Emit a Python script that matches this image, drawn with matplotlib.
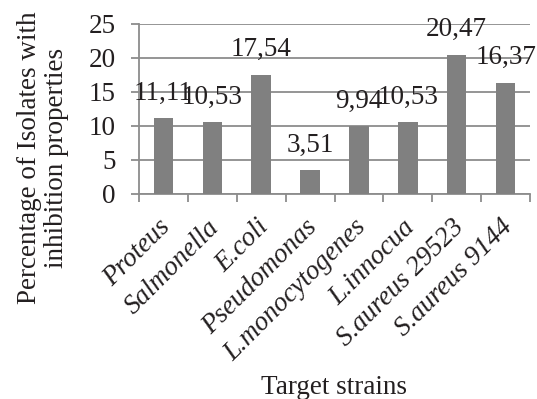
import numpy as np
import matplotlib
matplotlib.use("Agg")
import matplotlib.pyplot as plt
import matplotlib.transforms as mtransforms

# ------------------------------------------
# DATA
strains = ['Proteus', 'Salmonella', 'E.coli', 'Pseudomonas',
           'L.monocytogenes', 'L.innocua', 'S.aureus 29523', 'S.aureus 9144']
percentIsolates = [11.11, 10.53, 17.54, 3.51, 9.94, 10.53, 20.47, 16.37]
yTicks = [0, 5, 10, 15, 20, 25]

barColor = '#808080'
lineColor = '#8c8c8c'
textColor = '#231f20'
fontSize = 19.5

plt.rcParams['font.family'] = 'Liberation Serif'

fig = plt.figure(figsize=(5.37, 3.99), dpi=100)
ax = fig.add_axes([0.259, 0.514, 0.728, 0.426])

x_pos = np.arange(len(strains))
ax.bar(x_pos, percentIsolates, width=0.4, color=barColor, zorder=3)

# value labels above each bar, comma as decimal separator
for x, v in zip(x_pos, percentIsolates):
    ax.annotate(f'{v:.2f}'.replace('.', ','), (x, v), xytext=(0, 18),
                textcoords='offset points', ha='center', va='center',
                fontsize=fontSize, color=textColor, zorder=4)

ax.set_xlim(-0.5, len(strains) - 0.5)
ax.set_ylim(0, 25)
ax.set_yticks(yTicks)
ax.yaxis.grid(True, color=lineColor, linewidth=1.3, zorder=0)
ax.tick_params(axis='y', length=6, width=1.3, color=lineColor,
               labelsize=fontSize, labelcolor=textColor, pad=11)

# category labels at bar centres, tick marks at category borders
ax.set_xticks(x_pos)
ax.set_xticklabels(strains, rotation=45, ha='right', va='top',
                   rotation_mode='anchor', style='italic', fontsize=fontSize,
                   color=textColor)
ax.tick_params(axis='x', which='major', length=0, pad=15)
shift = mtransforms.ScaledTranslation(-4 / 72, 0, fig.dpi_scale_trans)
for lbl in ax.get_xticklabels():
    lbl.set_transform(lbl.get_transform() + shift)
ax.set_xticks(np.arange(-0.5, len(strains)), minor=True)
ax.tick_params(axis='x', which='minor', length=6, width=1.3, color=lineColor)

for side in ['top', 'right']:
    ax.spines[side].set_visible(False)
for side in ['left', 'bottom']:
    ax.spines[side].set_color(lineColor)
    ax.spines[side].set_linewidth(1.3)

fig.text(0.08, 0.604, 'Percentage of Isolates with\ninhibition properties',
         rotation=90, ha='center', va='center', multialignment='center',
         fontsize=fontSize, color=textColor, linespacing=1.15)
fig.text(0.622, 0.030, 'Target strains', ha='center', va='center',
         fontsize=fontSize, color=textColor)

plt.savefig('out.png', dpi=100)
